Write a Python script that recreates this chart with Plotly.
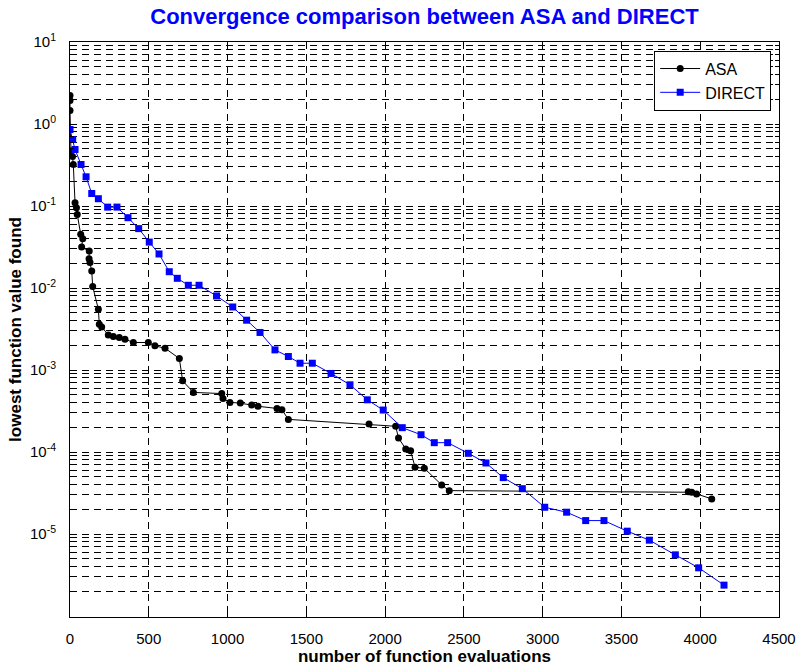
import plotly.graph_objects as go

# ASA: number of function evaluations vs. lowest value found
asa_evals = [0, 0, 0, 6, 16, 21, 32, 41, 46, 68, 81, 74, 122, 121, 127, 138, 144,
             180, 186, 201, 243, 275, 313, 349, 402, 497, 539, 603, 694, 715, 783,
             963, 971, 1015, 1081, 1153, 1193, 1314, 1345, 1386, 1898, 2067, 2085,
             2131, 2162, 2190, 2249, 2359, 2407, 3924, 3946, 3977, 4073]
asa_best = [2.22, 1.93, 1.46, 0.468, 0.401, 0.321, 0.1096, 0.0953, 0.079, 0.0451,
            0.040, 0.0316, 0.0282, 0.0228, 0.0204, 0.0161, 0.0104, 0.0055, 0.00362,
            0.00335, 0.00268, 0.00256, 0.00249, 0.00238, 0.002165, 0.002165, 0.00197,
            0.001845, 0.001382, 0.000738, 0.000533, 0.000516, 0.00045, 0.000403,
            0.000395, 0.000375, 0.000361, 0.00034, 0.000327, 0.00025, 0.000219,
            0.000206, 0.000148, 0.0001088, 0.0001037, 6.51e-5, 6.33e-5, 3.97e-5,
            3.38e-5, 3.28e-5, 3.23e-5, 3.08e-5, 2.68e-5]

# DIRECT: number of function evaluations vs. lowest value found
direct_evals = [0, 17, 32, 70, 102, 138, 180, 239, 298, 368, 436, 503, 565, 630, 681,
                751, 819, 930, 1033, 1121, 1206, 1301, 1386, 1460, 1538, 1657, 1777,
                1887, 1988, 2109, 2228, 2312, 2397, 2528, 2640, 2750, 2871, 3013, 3152,
                3273, 3389, 3537, 3677, 3842, 3990, 4151]
direct_best = [0.856, 0.647, 0.489, 0.321, 0.227, 0.142, 0.1227, 0.0969, 0.097, 0.072,
               0.053, 0.0363, 0.026, 0.0158, 0.01313, 0.0108, 0.0108, 0.0080, 0.00587,
               0.00405, 0.00287, 0.00176, 0.00146, 0.00121, 0.00121, 0.000908, 0.00066,
               0.000433, 0.000325, 0.000198, 0.0001625, 0.00013, 0.00013, 9.64e-5,
               7.35e-5, 4.87e-5, 3.57e-5, 2.12e-5, 1.845e-5, 1.458e-5, 1.458e-5,
               1.083e-5, 8.41e-6, 5.57e-6, 3.87e-6, 2.38e-6]

x_ticks = [0, 500, 1000, 1500, 2000, 2500, 3000, 3500, 4000, 4500]

# log-axis ticks: label the decades, gridlines on every 1..9 multiple
y_tickvals, y_ticktext = [], []
for e in range(-6, 1):
    for m in range(1, 10):
        if e == -6 and m == 1:
            continue
        y_tickvals.append(m * 10.0 ** e)
        y_ticktext.append(f"10<sup>{e}</sup>" if m == 1 else "")
y_tickvals.append(10.0)
y_ticktext.append("10<sup>1</sup>")

grid_dash = "7px,5px"
font_family = "Liberation Sans, Arial, sans-serif"

fig = go.Figure()
fig.add_trace(go.Scatter(
    x=asa_evals, y=asa_best, name="ASA", mode="lines+markers",
    line=dict(color="black", width=1),
    marker=dict(symbol="circle", size=7, color="black"),
))
fig.add_trace(go.Scatter(
    x=direct_evals, y=direct_best, name="DIRECT", mode="lines+markers",
    line=dict(color="#0000ff", width=1),
    marker=dict(symbol="square", size=7, color="#0000ff"),
))

fig.update_layout(
    width=801, height=668,
    margin=dict(l=70, r=22, t=42, b=51),
    paper_bgcolor="white", plot_bgcolor="white",
    font=dict(family=font_family, color="black", size=15),
    title=dict(
        text="<b>Convergence comparison between ASA and DIRECT</b>",
        font=dict(size=22, color="#0000ff", family=font_family),
        x=0.5, xref="paper", xanchor="center", y=0.975, yanchor="middle",
    ),
    legend=dict(
        x=0.989, y=0.985, xanchor="right", yanchor="top",
        bgcolor="white", bordercolor="black", borderwidth=1,
        font=dict(size=16), itemwidth=40, tracegroupgap=0,
    ),
    showlegend=True,
)

fig.update_xaxes(
    range=[0, 4500], tickvals=x_ticks,
    ticktext=[str(v) for v in x_ticks],
    showline=True, linecolor="black", linewidth=1, mirror="allticks",
    ticks="inside", ticklen=5, tickcolor="black",
    showgrid=True, gridcolor="black", gridwidth=1, griddash=grid_dash,
    zeroline=False, ticklabelstandoff=8, automargin=False,
    title=dict(text="<b>number of function evaluations</b>", font=dict(size=17), standoff=4),
)
fig.update_yaxes(
    type="log", range=[-6.012, 1],
    tickvals=y_tickvals, ticktext=y_ticktext,
    showline=True, linecolor="black", linewidth=1, mirror="allticks",
    ticks="inside", ticklen=4, tickcolor="black",
    showgrid=True, gridcolor="black", gridwidth=1, griddash=grid_dash,
    zeroline=False, ticklabelstandoff=10, automargin=False,
    title=dict(text="<b>lowest function value found</b>", font=dict(size=17), standoff=4),
)

fig.write_html("out.html")
